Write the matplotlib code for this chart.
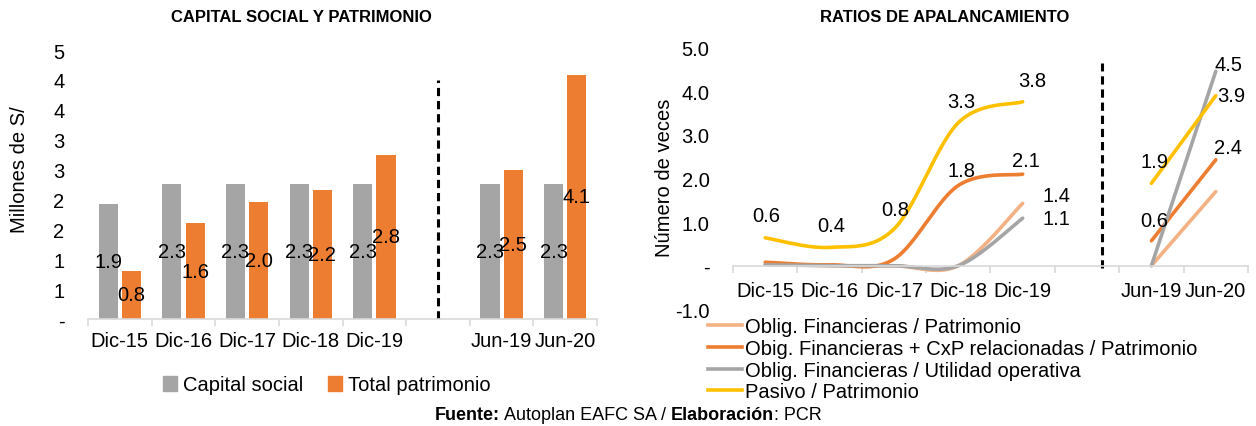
import numpy as np
import matplotlib
matplotlib.use('Agg')
import matplotlib.pyplot as plt
from matplotlib.patches import Patch
from matplotlib.lines import Line2D
from matplotlib.ticker import FuncFormatter, FixedLocator
from matplotlib.offsetbox import TextArea, HPacker, AnchoredOffsetbox

plt.rcParams['font.family'] = ['Liberation Sans', 'DejaVu Sans']

nan = np.nan

# categories (empty slot separates the annual and half-year periods)
periodos = ['Dic-15', 'Dic-16', 'Dic-17', 'Dic-18', 'Dic-19', '', 'Jun-19', 'Jun-20']

# capital social y patrimonio, millones de S/
capital_social = [1.93, 2.26, 2.26, 2.26, 2.26, nan, 2.26, 2.26]
total_patrimonio = [0.81, 1.60, 1.96, 2.16, 2.75, nan, 2.49, 4.09]

# ratios de apalancamiento, numero de veces
oblig_patrimonio = [0.03, 0.0, 0.0, 0.0, 1.43, nan, 0.0, 1.70]
oblig_cxp_patrimonio = [0.08, 0.02, 0.15, 1.84, 2.10, nan, 0.57, 2.43]
oblig_utilidad = [0.02, 0.0, 0.0, 0.0, 1.09, nan, 0.0, 4.46]
pasivo_patrimonio = [0.64, 0.42, 0.84, 3.28, 3.76, nan, 1.89, 3.90]

GRIS = '#A5A5A5'
NARANJA = '#ED7D31'
NARANJA_CLARO = '#F4B183'
AMARILLO = '#FFC000'
EJE = '#D9D9D9'
FS = 14.5


def smooth(xs, ys, n=40):
    # bezier smoothing similar to spreadsheet "smoothed line"
    xs = np.asarray(xs, float)
    ys = np.asarray(ys, float)
    px = np.concatenate([[xs[0]], xs, [xs[-1]]])
    py = np.concatenate([[ys[0]], ys, [ys[-1]]])
    t = np.linspace(0, 1, n)
    outx, outy = [], []
    for i in range(1, len(px) - 2):
        x0, x1, x2, x3 = px[i - 1], px[i], px[i + 1], px[i + 2]
        y0, y1, y2, y3 = py[i - 1], py[i], py[i + 1], py[i + 2]
        cx1, cy1 = x1 + (x2 - x0) / 6, y1 + (y2 - y0) / 6
        cx2, cy2 = x2 - (x3 - x1) / 6, y2 - (y3 - y1) / 6
        bx = (1 - t)**3 * x1 + 3 * (1 - t)**2 * t * cx1 + 3 * (1 - t) * t**2 * cx2 + t**3 * x2
        by = (1 - t)**3 * y1 + 3 * (1 - t)**2 * t * cy1 + 3 * (1 - t) * t**2 * cy2 + t**3 * y2
        outx.extend(bx)
        outy.extend(by)
    return np.array(outx), np.array(outy)


def style_axis(ax):
    for s in ['left', 'right', 'top']:
        ax.spines[s].set_visible(False)
    ax.spines['bottom'].set_color(EJE)
    ax.spines['bottom'].set_linewidth(1.2)
    ax.set_xlim(-0.5, len(periodos) - 0.5)
    ax.xaxis.set_major_locator(FixedLocator(range(len(periodos))))
    ax.set_xticklabels(periodos)
    ax.xaxis.set_minor_locator(FixedLocator(np.arange(len(periodos) + 1) - 0.5))
    ax.tick_params(axis='x', which='major', length=0, labelsize=FS)
    ax.tick_params(axis='x', which='minor', length=5, color=EJE, width=1.2, direction='out')
    ax.tick_params(axis='y', length=0, labelsize=FS, pad=17)


fig = plt.figure(figsize=(12.56, 4.27), dpi=100)

# ---- Capital social y patrimonio ----
ax1 = fig.add_axes([0.0701, 0.2506, 0.4053, 0.6297])
style_axis(ax1)
ax1.tick_params(axis='x', which='major', pad=9)
x = np.arange(len(periodos))
w = 0.30
off = 0.183
b1 = ax1.bar(x - off, capital_social, w, color=GRIS, label='Capital social')
b2 = ax1.bar(x + off, total_patrimonio, w, color=NARANJA, label='Total patrimonio')
for bars, vals in [(b1, capital_social), (b2, total_patrimonio)]:
    for rect, v in zip(bars, vals):
        if np.isnan(v):
            continue
        ax1.text(rect.get_x() + rect.get_width() / 2, v / 2, f'{v:.1f}',
                 ha='center', va='center', fontsize=FS, color='black')
ax1.set_ylim(0, 4.5)
ax1.yaxis.set_major_locator(FixedLocator(np.arange(0, 4.51, 0.5)))
ax1.yaxis.set_major_formatter(FuncFormatter(
    lambda v, p: '-' if abs(v) < 1e-9 else str(int(np.floor(v + 0.5)))))
ax1.plot([5, 5], [0, 4.0], color='black', lw=2.2, dashes=(2.7, 1.6))
fig.text(301 / 1256, 1 - 18 / 427, 'CAPITAL SOCIAL Y PATRIMONIO', ha='center', va='center',
         fontsize=12, fontweight='bold')
fig.text(20 / 1256, 0.602, 'Millones de S/', rotation=90, ha='center', va='center', fontsize=FS)

fig.legend(handles=[Patch(color=GRIS, label='Capital social'),
                    Patch(color=NARANJA, label='Total patrimonio')],
           loc='center', bbox_to_anchor=(327 / 1256, 1 - 386 / 427), ncol=2, frameon=False,
           fontsize=FS, handlelength=0.7, handleheight=0.7, handletextpad=0.3, columnspacing=1.2)

# ---- Ratios de apalancamiento ----
ax2 = fig.add_axes([0.5836, 0.2733, 0.4100, 0.6126])
style_axis(ax2)
ax2.spines['bottom'].set_position(('data', 0))
ax2.tick_params(axis='x', which='major', pad=11)
ax2.set_ylim(-1, 5)
ax2.yaxis.set_major_locator(FixedLocator(np.arange(-1, 5.01, 1)))
ax2.yaxis.set_major_formatter(FuncFormatter(lambda v, p: '-' if abs(v) < 1e-9 else f'{v:.1f}'))

series = [
    ('Oblig. Financieras / Patrimonio', oblig_patrimonio, NARANJA_CLARO),
    ('Obig. Financieras + CxP relacionadas / Patrimonio', oblig_cxp_patrimonio, NARANJA),
    ('Oblig. Financieras / Utilidad operativa', oblig_utilidad, GRIS),
    ('Pasivo / Patrimonio', pasivo_patrimonio, AMARILLO),
]
handles = []
for nombre, vals, col in series:
    sx, sy = smooth(x[:5], vals[:5])
    ax2.plot(sx, sy, color=col, lw=2.6, solid_capstyle='round')
    ax2.plot(x[6:], vals[6:], color=col, lw=2.6, solid_capstyle='round')
    handles.append(Line2D([], [], color=col, lw=2.6, label=nombre))

# data labels: (values, index, ha, dx, dy) offsets in points
etiquetas = [
    (pasivo_patrimonio, 0, 'center', 1, 16),
    (pasivo_patrimonio, 1, 'center', 1, 16),
    (pasivo_patrimonio, 2, 'center', 1, 14),
    (pasivo_patrimonio, 3, 'center', 2, 15),
    (pasivo_patrimonio, 4, 'center', 7, 15),
    (pasivo_patrimonio, 6, 'center', 2, 16),
    (pasivo_patrimonio, 7, 'left', 1, 0),
    (oblig_cxp_patrimonio, 3, 'center', 2, 11),
    (oblig_cxp_patrimonio, 4, 'center', 2, 10),
    (oblig_cxp_patrimonio, 6, 'center', 2, 15),
    (oblig_cxp_patrimonio, 7, 'left', -1, 9),
    (oblig_patrimonio, 4, 'left', 14, 6),
    (oblig_utilidad, 4, 'left', 14, 0),
    (oblig_utilidad, 7, 'left', -1, 5),
]
for vals, i, ha, dx, dy in etiquetas:
    ax2.annotate(f'{vals[i]:.1f}', (x[i], vals[i]), xytext=(dx, dy), textcoords='offset points',
                 ha=ha, va='center', fontsize=FS)

ax2.plot([5.225, 5.225], [-0.05, 4.66], color='black', lw=2.2, dashes=(2.7, 1.6))
fig.text(945 / 1256, 1 - 18 / 427, 'RATIOS DE APALANCAMIENTO', ha='center', va='center',
         fontsize=12, fontweight='bold')
fig.text(665 / 1256, 0.584, 'Número de veces', rotation=90, ha='center', va='center', fontsize=FS)

fig.legend(handles=handles, loc='upper left', bbox_to_anchor=(708 / 1256, 1 - 318 / 427),
           frameon=False, fontsize=FS, handlelength=1.7, handletextpad=0.15, labelspacing=0.14,
           borderaxespad=0, borderpad=0)

# source line with bold parts
partes = [('Fuente:', 'bold'), (' Autoplan EAFC SA / ', 'normal'), ('Elaboración', 'bold'), (': PCR', 'normal')]
cajas = [TextArea(t, textprops=dict(fontsize=13, fontweight=fw)) for t, fw in partes]
fila = HPacker(children=cajas, pad=0, sep=0, align='baseline')
fig.add_artist(AnchoredOffsetbox(loc='center', child=fila, frameon=False, borderpad=0, pad=0,
                                 bbox_to_anchor=(0.5, 1 - 416 / 427), bbox_transform=fig.transFigure))

fig.savefig('out.png', dpi=100)
